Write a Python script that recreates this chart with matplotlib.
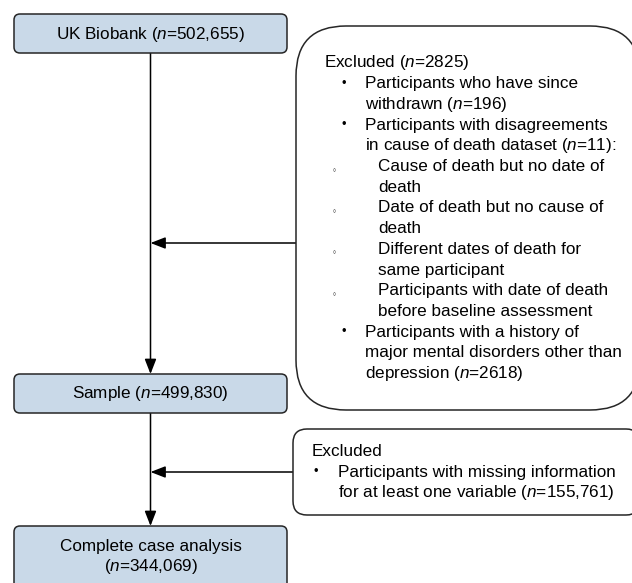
import matplotlib
matplotlib.use("Agg")
import matplotlib.pyplot as plt
from matplotlib.patches import FancyBboxPatch

plt.rcParams['font.family'] = ['Liberation Sans', 'DejaVu Sans']
plt.rcParams['mathtext.fontset'] = 'custom'
plt.rcParams['mathtext.it'] = 'Liberation Sans:italic'
plt.rcParams['mathtext.rm'] = 'Liberation Sans'

# ---- data ----
main_labels = ["UK Biobank ($n$=502,655)", "Sample ($n$=499,830)",
               "Complete case analysis\n($n$=344,069)"]
counts = [502655, 499830, 344069]
excl1_lines = [
    (0, "Excluded ($n$=2825)"),
    (1, "Participants who have since"),
    (None, "withdrawn ($n$=196)"),
    (1, "Participants with disagreements"),
    (None, "in cause of death dataset ($n$=11):"),
    (2, "Cause of death but no date of"),
    (-2, "death"),
    (2, "Date of death but no cause of"),
    (-2, "death"),
    (2, "Different dates of death for"),
    (-2, "same participant"),
    (2, "Participants with date of death"),
    (-2, "before baseline assessment"),
    (1, "Participants with a history of"),
    (None, "major mental disorders other than"),
    (None, "depression ($n$=2618)"),
]
excl2_lines = [
    (0, "Excluded"),
    (1, "Participants with missing information"),
    (None, "for at least one variable ($n$=155,761)"),
]

fig = plt.figure(figsize=(6.32, 5.83), dpi=100)
ax = fig.add_axes([0, 0, 1, 1])
ax.set_xlim(0, 632)
ax.set_ylim(583, 0)
ax.axis('off')

FILL = '#c9d9e8'
EDGE = '#262626'
FS = 12.3

def box(x0, y0, x1, y1, r, fc):
    p = FancyBboxPatch((x0, y0), x1 - x0, y1 - y0,
                       boxstyle=f"round,pad=0,rounding_size={r}",
                       fc=fc, ec=EDGE, lw=1.1, zorder=2)
    ax.add_patch(p)

# main boxes
main_boxes = [(14, 14, 287, 53), (14, 374, 287, 413), (14, 526, 287, 600)]
for (x0, y0, x1, y1), lab in zip(main_boxes, main_labels):
    box(x0, y0, x1, y1, 6, FILL)
cx = 150.5
ax.text(cx, 34, main_labels[0], ha='center', va='center', fontsize=FS, zorder=3)
ax.text(cx, 393.5, main_labels[1], ha='center', va='center', fontsize=FS, zorder=3)
ax.text(cx, 547, main_labels[2].split('\n')[0], ha='center', va='center', fontsize=FS, zorder=3)
ax.text(cx, 567, main_labels[2].split('\n')[1], ha='center', va='center', fontsize=FS, zorder=3)

def arrow(x0, y0, x1, y1):
    ax.annotate('', xy=(x1, y1), xytext=(x0, y0),
                arrowprops=dict(arrowstyle='-|>,head_length=0.9,head_width=0.35',
                                color='black', lw=1.1, shrinkA=0, shrinkB=0),
                zorder=1)

arrow(cx, 53, cx, 374)
arrow(cx, 413, cx, 526)
arrow(296, 243, cx, 243)
arrow(293, 472, cx, 472)

# exclusion boxes
box(296, 26, 640, 410, 50, 'white')
box(293, 429, 640, 515, 14, 'white')

def lines_block(lines, y0, dy, x_head, x_b1, x_t1, x_b2, x_t2):
    for i, (lvl, t) in enumerate(lines):
        y = y0 + i * dy
        if lvl == 0:
            ax.text(x_head, y, t, ha='left', va='center', fontsize=FS, zorder=3)
        elif lvl == 1:
            ax.text(x_b1, y, '•', ha='left', va='center', fontsize=FS - 3, zorder=3)
            ax.text(x_t1, y, t, ha='left', va='center', fontsize=FS, zorder=3)
        elif lvl is None:
            ax.text(x_t1, y, t, ha='left', va='center', fontsize=FS, zorder=3)
        elif lvl == 2:
            ax.text(x_b2, y + 4, '◦', ha='left', va='center', fontsize=6,
                    family=['DejaVu Sans'], zorder=3)
            ax.text(x_t2, y, t, ha='left', va='center', fontsize=FS, zorder=3)
        else:
            ax.text(x_t2, y, t, ha='left', va='center', fontsize=FS, zorder=3)

lines_block(excl1_lines, 63, 20.7, 324, 342, 365, 332, 378)
lines_block(excl2_lines, 452, 20, 312, 313, 338, 0, 0)

fig.savefig('out.png', dpi=100)
